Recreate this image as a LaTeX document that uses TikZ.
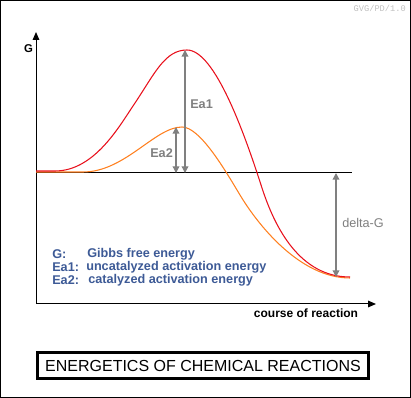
\documentclass[tikz,border=0pt]{standalone}
\usepackage{fontspec}
\setmainfont{Liberation Sans}
\setmonofont{Liberation Mono}
\usetikzlibrary{arrows.meta}

\definecolor{uncatred}{HTML}{E8101C}
\definecolor{catorange}{HTML}{FF8020}
\definecolor{dimgray}{HTML}{808080}
\definecolor{legendblue}{HTML}{3D5A96}
\definecolor{stampgray}{HTML}{C0C0C0}

\begin{document}
\begin{tikzpicture}[x=0.75pt,y=-0.75pt,
    axis/.style={line width=0.75pt,-{Triangle[length=6pt,width=5pt]}},
    energy/.style={draw=dimgray,line width=1pt,{Triangle[length=5pt,width=5pt]}-{Triangle[length=5pt,width=5pt]}},
    dimlabel/.style={text=dimgray,font=\bfseries\fontsize{9.5}{10}\selectfont,inner sep=0pt},
    legend/.style={text=legendblue,font=\bfseries\fontsize{9.5}{10}\selectfont,inner sep=0pt,anchor=west},
    titlebox/.style={draw,line width=2.25pt,inner sep=0pt,minimum width=248pt,minimum height=19.5pt,
      font=\fontsize{12}{14}\selectfont}]
  \useasboundingbox (0,0) rectangle (411,398);
  \draw[line width=0.75pt] (0.5,0.5) rectangle (410.5,397.5);
  \node[text=stampgray,font=\ttfamily\fontsize{6.5}{7}\selectfont,anchor=east,inner sep=0pt] (stamp) at (406,8) {GVG/PD/1.0};

  % axes
  \coordinate (origin) at (36,304);
  \coordinate (ytip) at (36,32);
  \coordinate (xtip) at (376,304);
  \draw[axis] (origin) -- (ytip);
  \draw[axis] (origin) -- (xtip);
  \node[font=\bfseries\fontsize{8.5}{9}\selectfont,inner sep=0pt] (glabel) at (28.5,48.5) {G};
  \node[font=\bfseries\fontsize{9}{10}\selectfont,inner sep=0pt] (xlabel) at (306,313) {course of reaction};

  % level of the reactants
  \coordinate (lstart) at (36,173);
  \coordinate (lend) at (352,173);
  \draw[line width=0.75pt] (lstart) -- (lend);

  % reaction paths
  \draw[catorange,line width=0.8pt] (36,172) -- (83,172)
    .. controls (125,172) and (155,127) .. (182,127)
    .. controls (200,127) and (225,170) .. (240,195)
    .. controls (258,225) and (300,278) .. (350,278);
  \draw[uncatred,line width=0.8pt] (36,171) -- (55,171)
    .. controls (95,171) and (120,125) .. (135,103)
    .. controls (155,73) and (165,50) .. (187,50)
    .. controls (215,50) and (245,135) .. (262,188)
    .. controls (275,228) and (300,277) .. (350,277);

  % energy differences
  \coordinate (base1) at (185,173);
  \coordinate (top1) at (185,50);
  \coordinate (base2) at (176,173);
  \coordinate (top2) at (176,127);
  \coordinate (base3) at (336,173);
  \coordinate (end3) at (336,277);
  \draw[energy] (base1) -- (top1);
  \draw[energy] (base2) -- (top2);
  \draw[energy] (base3) -- (end3);
  \node[dimlabel,anchor=west] (ea1) at (190,104) {Ea1};
  \node[dimlabel,anchor=west] (ea2) at (150,153) {Ea2};
  \node[dimlabel,font=\fontsize{9.5}{10}\selectfont,anchor=west] (dg) at (342,223) {delta-G};

  % legend
  \node[legend] (lg1) at (52,254) {G:};
  \node[legend] (lt1) at (87,254) {Gibbs free energy};
  \node[legend] (lg2) at (52,267) {Ea1:};
  \node[legend] (lt2) at (86,267) {uncatalyzed activation energy};
  \node[legend] (lg3) at (52,280) {Ea2:};
  \node[legend] (lt3) at (88,280) {catalyzed activation energy};

  \node[titlebox] (title) at (203,365.5) {ENERGETICS OF CHEMICAL REACTIONS};
\end{tikzpicture}
\end{document}
